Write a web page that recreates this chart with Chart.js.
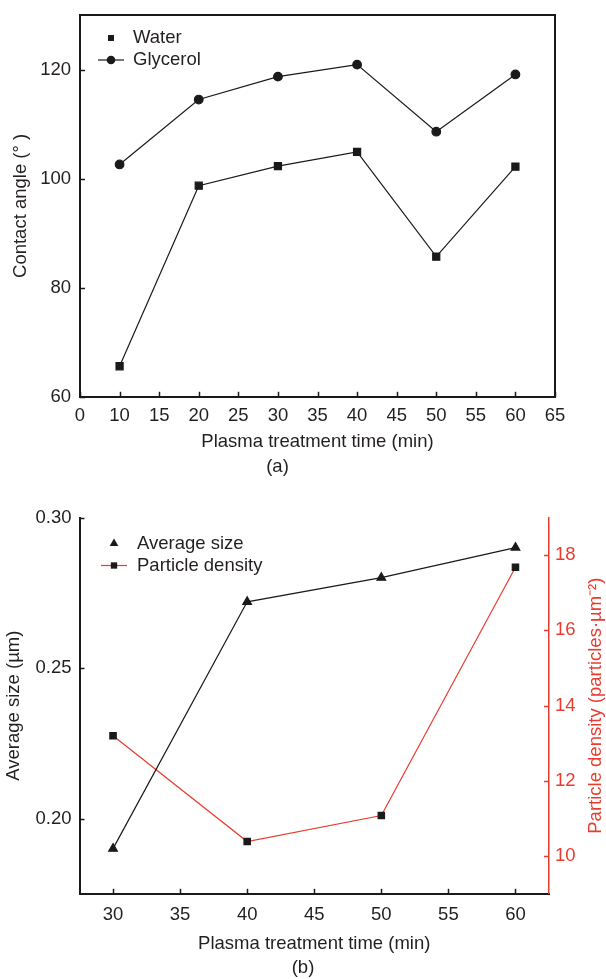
<!DOCTYPE html>
<html>
<head>
<meta charset="utf-8">
<script src="https://cdn.jsdelivr.net/npm/chart.js@4.4.1/dist/chart.umd.min.js"></script>
<style>
  html, body { margin: 0; padding: 0; background: #fff; }
  #wrapA { position: absolute; left: 0; top: 0; width: 606px; height: 486px; }
  #wrapB { position: absolute; left: 0; top: 486px; width: 606px; height: 493px; }
</style>
</head>
<body>
<div id="wrapA"><canvas id="chartA"></canvas></div>
<div id="wrapB"><canvas id="chartB"></canvas></div>
<script>
// (a) contact angle vs plasma treatment time
const timeA = [10, 20, 30, 40, 50, 60];
const water = [65.6, 98.7, 102.3, 104.9, 85.7, 102.2];
const glycerol = [102.6, 114.5, 118.7, 120.9, 108.6, 119.1];
const xTicksA = [5, 10, 15, 20, 25, 30, 35, 40, 45, 50, 55, 60, 65];
const xTickLabelsA = ['0', '10', '15', '20', '25', '30', '35', '40', '45', '50', '55', '60', '65'];
const yTicksA = [60, 80, 100, 120];

// (b) average size and particle density
const timeB = [30, 40, 50, 60];
const avgSize = [0.19, 0.272, 0.28, 0.29];
const density = [13.2, 10.39, 11.08, 17.68];
const xTicksB = [30, 35, 40, 45, 50, 55, 60];
const yTicksB = [0.20, 0.25, 0.30];
const y2TicksB = [10, 12, 14, 16, 18];

const BLACK = '#1a1a1a';
const TEXT = '#231f20';
const RED = '#ea3b2e';
const FONT = 'Arial, "Liberation Sans", sans-serif';
const FS = 18.5;

Chart.defaults.font.family = FONT;
Chart.defaults.font.size = FS;
Chart.defaults.color = TEXT;

function pts(xs, ys) {
  return xs.map((x, i) => ({ x: x, y: ys[i] }));
}

function setTicks(list) {
  return s => { s.ticks = list.map(v => ({ value: v })); };
}

// fixed width for y axes, no extra label padding at the ends
function fitV(w) {
  return s => { s.width = w; s.paddingTop = 0; s.paddingBottom = 0; };
}

function drawMarker(ctx, style, x, y, r, color) {
  ctx.fillStyle = color;
  ctx.beginPath();
  if (style === 'circle') {
    ctx.arc(x, y, r, 0, Math.PI * 2);
  } else if (style === 'triangle') {
    ctx.moveTo(x, y - r);
    ctx.lineTo(x + r * 0.866, y + r * 0.5);
    ctx.lineTo(x - r * 0.866, y + r * 0.5);
    ctx.closePath();
  } else {
    ctx.rect(x - r * 0.7, y - r * 0.7, r * 1.4, r * 1.4);
  }
  ctx.fill();
}

// tick marks pointing into the plot
const inTicks = {
  id: 'inTicks',
  afterDraw(chart) {
    const ctx = chart.ctx;
    ctx.save();
    Object.values(chart.scales).forEach(s => {
      const o = s.options.inTick;
      if (!o) return;
      ctx.strokeStyle = o.color;
      ctx.lineWidth = o.width;
      s.ticks.forEach(t => {
        const p = Math.round(s.getPixelForValue(t.value)) + 0.5;
        ctx.beginPath();
        if (s.isHorizontal()) {
          ctx.moveTo(p, s.top);
          ctx.lineTo(p, s.top - o.len);
        } else if (s.position === 'left') {
          ctx.moveTo(s.right, p);
          ctx.lineTo(s.right + o.len, p);
        } else {
          ctx.moveTo(s.left, p);
          ctx.lineTo(s.left - o.len, p);
        }
        ctx.stroke();
      });
    });
    ctx.restore();
  }
};

const frame = {
  id: 'frame',
  afterDraw(chart) {
    const a = chart.chartArea;
    const ctx = chart.ctx;
    ctx.save();
    ctx.strokeStyle = BLACK;
    ctx.lineWidth = 2;
    ctx.beginPath();
    ctx.moveTo(a.left, a.top);
    ctx.lineTo(a.right, a.top);
    ctx.lineTo(a.right, a.bottom);
    ctx.stroke();
    ctx.restore();
  }
};

const boxLegend = {
  id: 'boxLegend',
  afterDraw(chart, args, opts) {
    const ctx = chart.ctx;
    ctx.save();
    ctx.font = FS + 'px ' + FONT;
    ctx.textBaseline = 'middle';
    chart.data.datasets.forEach((ds, i) => {
      const y = opts.y + i * opts.gap;
      if (ds.legendLine) {
        ctx.strokeStyle = ds.borderColor;
        ctx.lineWidth = 1.2;
        ctx.beginPath();
        ctx.moveTo(opts.markerX - 13, y);
        ctx.lineTo(opts.markerX + 13, y);
        ctx.stroke();
      }
      drawMarker(ctx, ds.pointStyle, opts.markerX, y, ds.legendR, ds.pointBackgroundColor);
      ctx.fillStyle = TEXT;
      ctx.fillText(ds.label, opts.textX, y);
    });
    ctx.restore();
  }
};

const sideTitle = {
  id: 'sideTitle',
  afterDraw(chart, args, opts) {
    const a = chart.chartArea;
    const ctx = chart.ctx;
    ctx.save();
    ctx.translate(opts.x, (a.top + a.bottom) / 2);
    ctx.rotate(-Math.PI / 2);
    ctx.font = FS + 'px ' + FONT;
    ctx.fillStyle = opts.color;
    ctx.textAlign = 'center';
    ctx.textBaseline = 'middle';
    ctx.fillText(opts.text, 0, 0);
    ctx.restore();
  }
};

new Chart(document.getElementById('chartA'), {
  type: 'line',
  data: {
    datasets: [{
      label: 'Water',
      data: pts(timeA, water),
      borderColor: BLACK,
      borderWidth: 1.2,
      pointStyle: 'rect',
      pointRadius: 5,
      pointBackgroundColor: BLACK,
      pointBorderColor: BLACK,
      legendR: 4.3,
      legendLine: false
    }, {
      label: 'Glycerol',
      data: pts(timeA, glycerol),
      borderColor: BLACK,
      borderWidth: 1.2,
      pointStyle: 'circle',
      pointRadius: 4.3,
      pointBackgroundColor: BLACK,
      pointBorderColor: BLACK,
      legendR: 4.3,
      legendLine: true
    }]
  },
  options: {
    responsive: true,
    maintainAspectRatio: false,
    animation: false,
    layout: { padding: { top: 15, right: 51, left: 0, bottom: 0 } },
    scales: {
      x: {
        type: 'linear',
        min: 5,
        max: 65,
        afterBuildTicks: setTicks(xTicksA),
        afterFit: s => { s.height = 59; },
        grid: { display: false, drawTicks: false },
        border: { color: BLACK, width: 2 },
        inTick: { color: BLACK, width: 1.5, len: 5 },
        ticks: {
          padding: 8,
          maxRotation: 0,
          callback: v => xTickLabelsA[xTicksA.indexOf(v)]
        },
        title: { display: true, text: 'Plasma treatment time (min)', padding: { top: 0, bottom: 3 } }
      },
      y: {
        min: 60,
        max: 130,
        afterBuildTicks: setTicks(yTicksA),
        afterFit: fitV(80),
        grid: { display: false, drawTicks: false },
        border: { color: BLACK, width: 2 },
        inTick: { color: BLACK, width: 1.5, len: 5 },
        ticks: { padding: 9 },
        title: { display: true, text: 'Contact angle (° )', padding: { top: 10, bottom: 0 } }
      }
    },
    plugins: {
      legend: { display: false },
      tooltip: { enabled: false },
      title: { display: true, text: '(a)', position: 'bottom', color: TEXT, font: { size: FS, weight: 'normal' }, padding: { top: 0, bottom: 8 } },
      boxLegend: { y: 38, gap: 22, markerX: 111, textX: 133 }
    }
  },
  plugins: [inTicks, frame, boxLegend]
});

new Chart(document.getElementById('chartB'), {
  type: 'line',
  data: {
    datasets: [{
      label: 'Average size',
      data: pts(timeB, avgSize),
      yAxisID: 'y',
      borderColor: BLACK,
      borderWidth: 1.2,
      pointStyle: 'triangle',
      pointRadius: 5,
      pointBackgroundColor: BLACK,
      pointBorderColor: BLACK,
      legendR: 5,
      legendLine: false
    }, {
      label: 'Particle density',
      data: pts(timeB, density),
      yAxisID: 'y2',
      borderColor: RED,
      borderWidth: 1.2,
      pointStyle: 'rect',
      pointRadius: 4.5,
      pointBackgroundColor: BLACK,
      pointBorderColor: BLACK,
      legendR: 4.5,
      legendLine: true
    }]
  },
  options: {
    responsive: true,
    maintainAspectRatio: false,
    animation: false,
    layout: { padding: { top: 31.5, right: 0, left: 0, bottom: 0 } },
    scales: {
      x: {
        type: 'linear',
        min: 27.5,
        max: 62.5,
        afterBuildTicks: setTicks(xTicksB),
        afterFit: s => { s.height = 63; },
        grid: { display: false, drawTicks: false },
        border: { color: BLACK, width: 2 },
        inTick: { color: BLACK, width: 1.5, len: 5 },
        ticks: { padding: 10, maxRotation: 0 },
        title: { display: true, text: 'Plasma treatment time (min)', padding: { top: 0, bottom: 2 } }
      },
      y: {
        position: 'left',
        min: 0.175,
        max: 0.30,
        afterBuildTicks: setTicks(yTicksB),
        afterFit: fitV(79.5),
        grid: { display: false, drawTicks: false },
        border: { color: BLACK, width: 2 },
        inTick: { color: BLACK, width: 1.5, len: 5 },
        ticks: { padding: 8, callback: v => v.toFixed(2) },
        title: { display: true, text: 'Average size (µm)', padding: { top: 3, bottom: 0 } }
      },
      y2: {
        position: 'right',
        min: 9,
        max: 19,
        afterBuildTicks: setTicks(y2TicksB),
        afterFit: fitV(57),
        grid: { display: false, drawTicks: false },
        border: { color: RED, width: 1.5 },
        inTick: { color: RED, width: 1.5, len: 5 },
        ticks: { padding: 6, color: RED }
      }
    },
    plugins: {
      legend: { display: false },
      tooltip: { enabled: false },
      title: { display: true, text: '(b)', position: 'bottom', color: TEXT, font: { size: FS, weight: 'normal' }, padding: { top: 0, bottom: 0 } },
      boxLegend: { y: 57.5, gap: 22, markerX: 114, textX: 137 },
      sideTitle: { x: 596, text: 'Particle density (particles·µm⁻²)', color: RED }
    }
  },
  plugins: [inTicks, boxLegend, sideTitle]
});
</script>
</body>
</html>
